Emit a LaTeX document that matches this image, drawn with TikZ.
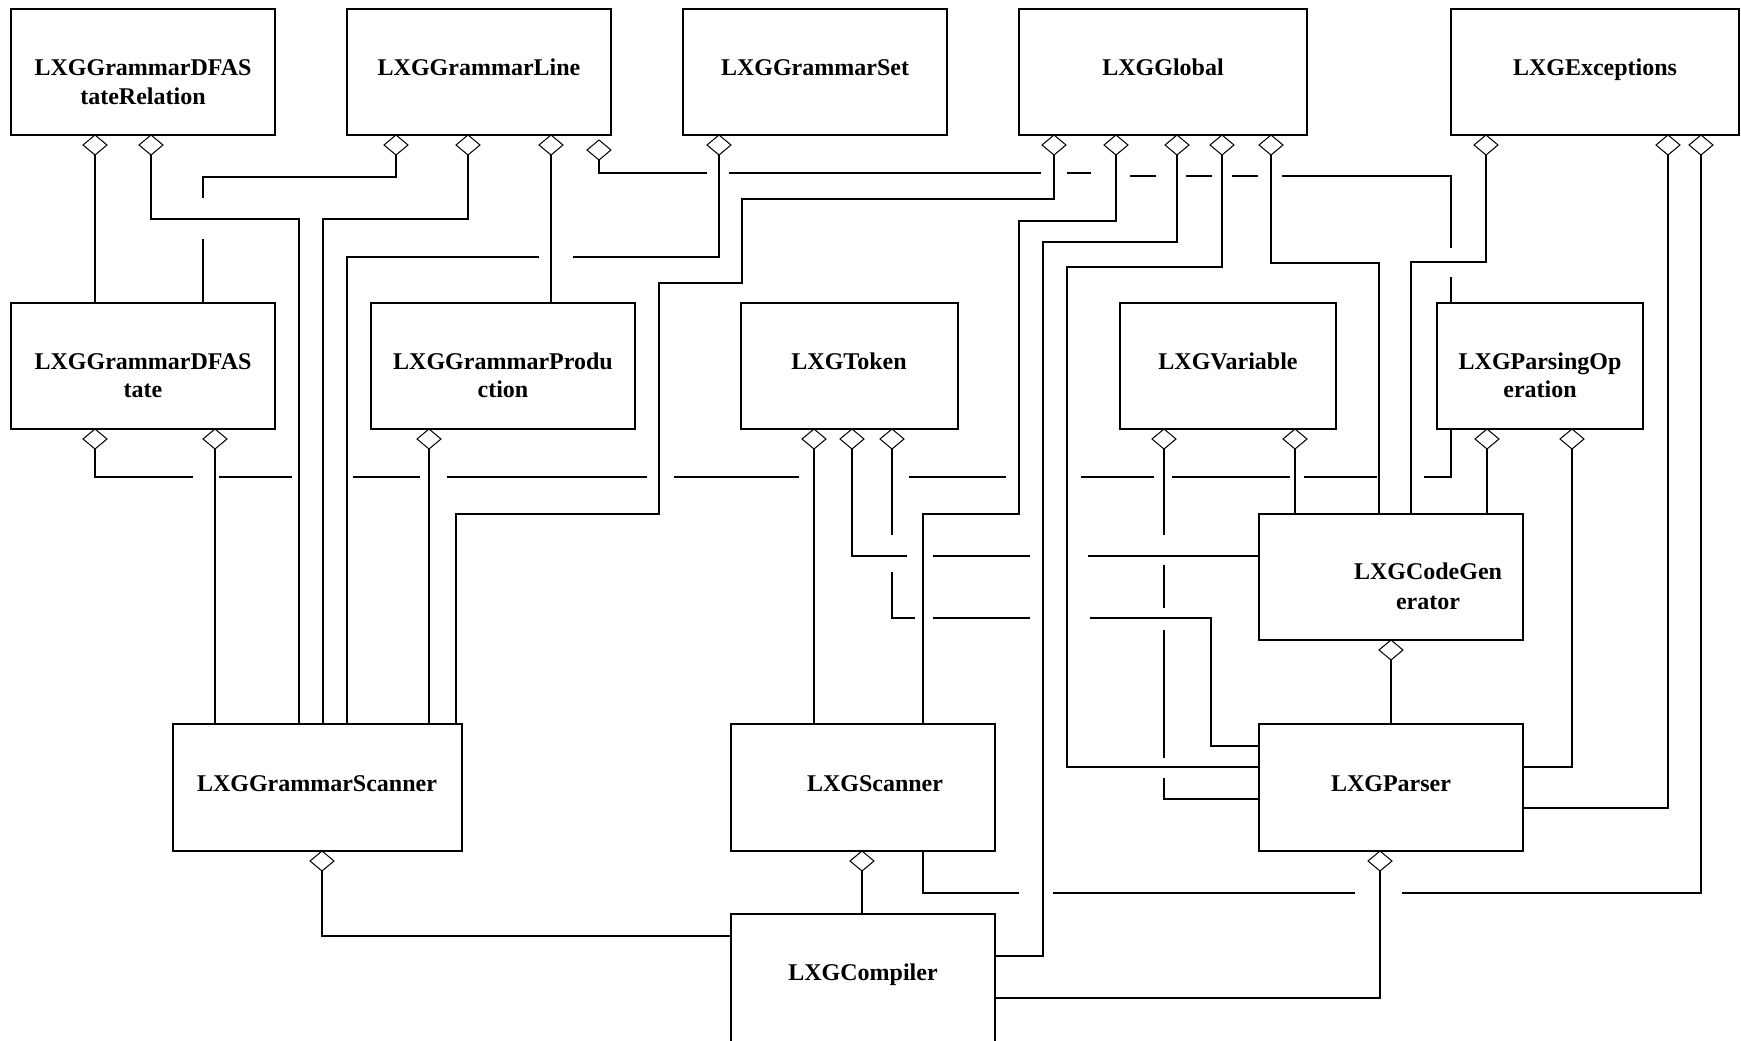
\documentclass[tikz,border=0pt]{standalone}
\usepackage{fontspec}
\setmainfont{Liberation Serif}
\usetikzlibrary{shapes.geometric}
\newcommand\cls[5]{\node[box, minimum width=#4*0.5pt, minimum height=#5*0.5pt] (#1) at (#2,#3) {};}
\newcommand\dm[3]{\node[dia] (#1) at (#2,#3) {};}
% horizontal broken between x1 and x2 at y; verticals listed are redrawn
\newcommand\hgap[4]{\fill[white] (#1,#3-3) rectangle (#2,#3+3);
  \foreach \vx in {#4} {\draw[con] (\vx,#3-4) -- (\vx,#3+4);}}
% vertical at x broken between y1 and y2; horizontals listed are redrawn
\newcommand\vgap[4]{\fill[white] (#1-3,#2) rectangle (#1+3,#3);
  \foreach \hy in {#4} {\draw[con] (#1-4,\hy) -- (#1+4,\hy);}}
\begin{document}
\begin{tikzpicture}[x=0.5pt, y=-0.5pt,
  box/.style={draw, line width=0.75pt, rectangle, anchor=north west, inner sep=0pt, outer sep=0pt},
  dia/.style={diamond, draw, fill=white, line width=0.5pt, minimum width=12pt, minimum height=10pt, inner sep=0pt, outer sep=0pt, anchor=north},
  con/.style={line width=0.55pt},
  lbl/.style={anchor=base, inner sep=0pt, font=\bfseries\fontsize{12}{14}\selectfont}]
\useasboundingbox (0,0) rectangle (1741,1040);
\fill[white] (0,0) rectangle (1741,1040);

% ---- classes
\cls{dfasr}{11}{9}{264}{126}
\cls{gline}{347}{9}{264}{126}
\cls{gset}{683}{9}{264}{126}
\cls{glob}{1019}{9}{288}{126}
\cls{exc}{1451}{9}{288}{126}
\cls{dfas}{11}{303}{264}{126}
\cls{prod}{371}{303}{264}{126}
\cls{tok}{741}{303}{217}{126}
\cls{var}{1120}{303}{216}{126}
\cls{pop}{1437}{303}{206}{126}
\cls{cgen}{1259}{514}{264}{126}
\cls{gsc}{173}{724}{289}{127}
\cls{scn}{731}{724}{264}{127}
\cls{par}{1259}{724}{264}{127}
\cls{comp}{731}{914}{264}{130}

% ---- labels
\node[lbl] (ta1) at (143,75) {LXGGrammarDFAS};
\node[lbl] (ta2) at (143,104) {tateRelation};
\node[lbl] (tb) at (479,75) {LXGGrammarLine};
\node[lbl] (tc) at (815,75) {LXGGrammarSet};
\node[lbl] (td) at (1163,75) {LXGGlobal};
\node[lbl] (te) at (1595,75) {LXGExceptions};
\node[lbl] (tf1) at (143,369) {LXGGrammarDFAS};
\node[lbl] (tf2) at (143,397) {tate};
\node[lbl] (tg1) at (503,369) {LXGGrammarProdu};
\node[lbl] (tg2) at (503,397) {ction};
\node[lbl] (th) at (849,369) {LXGToken};
\node[lbl] (ti) at (1228,369) {LXGVariable};
\node[lbl] (tj1) at (1540,369) {LXGParsingOp};
\node[lbl] (tj2) at (1540,397) {eration};
\node[lbl] (tk1) at (1428,579) {LXGCodeGen};
\node[lbl] (tk2) at (1428,609) {erator};
\node[lbl] (tl) at (317,791) {LXGGrammarScanner};
\node[lbl] (tm) at (875,791) {LXGScanner};
\node[lbl] (tn) at (1391,791) {LXGParser};
\node[lbl] (to) at (863,980) {LXGCompiler};

% ---- connectors
\draw[con] (95,155) -- (95,155 |- dfas.north);
\draw[con] (151,155) |- (299,219) -- (299,219 |- gsc.north);
\draw[con] (396,155) |- (203,177) -- (203,177 |- dfas.north);
\draw[con] (468,155) |- (323,219) -- (323,219 |- gsc.north);
\draw[con] (551,155) -- (551,155 |- prod.north);
\draw[con] (599,160) |- (1116,173) -- (1116,176) -| (1451,176 |- pop.north);
\draw[con] (719,155) |- (347,257) -- (347,257 |- gsc.north);
\draw[con] (1054,155) |- (742,199) |- (659,283) |- (456,514) -- (456,514 |- gsc.north);
\draw[con] (1116,155) |- (1019,221) |- (923,514) -- (923,514 |- scn.north);
\draw[con] (1177,155) |- (1043,242) |- (1043,956 -| comp.east);
\draw[con] (1222,155) |- (1067,267) |- (1067,767 -| par.west);
\draw[con] (1271,155) |- (1379,263) -- (1379,263 |- cgen.north);
\draw[con] (1486,155) |- (1411,262) -- (1411,262 |- cgen.north);
\draw[con] (1668,155) |- (1668,808 -| par.east);
\draw[con] (1701,155) |- (923,893) -- (923,893 |- scn.south);
\draw[con] (95,449) |- (1451,477) -- (1451,477 |- pop.south);
\draw[con] (215,449) -- (215,449 |- gsc.north);
\draw[con] (429,449) -- (429,449 |- gsc.north);
\draw[con] (814,449) -- (814,449 |- scn.north);
\draw[con] (852,449) |- (852,556 -| cgen.west);
\draw[con] (892,449) |- (1211,618) |- (1211,746 -| par.west);
\draw[con] (1164,449) |- (1164,799 -| par.west);
\draw[con] (1295,449) -- (1295,449 |- cgen.north);
\draw[con] (1487,449) -- (1487,449 |- cgen.north);
\draw[con] (1572,449) |- (1572,767 -| par.east);
\draw[con] (1391,660) -- (1391,660 |- par.north);
\draw[con] (322,871) |- (322,936 -| comp.west);
\draw[con] (862,871) -- (862,871 |- comp.north);
\draw[con] (1380,871) |- (1380,998 -| comp.east);

% ---- crossings
\hgap{707}{729}{173}{719}
\hgap{1041}{1067}{173}{1054}
\fill[white] (1091,169) rectangle (1130,180); \draw[con] (1116,167) -- (1116,182);
\hgap{1156}{1186}{176}{1177}
\hgap{1212}{1232}{176}{1222}
\hgap{1258}{1282}{176}{1271}
\hgap{539}{573}{257}{551}
\hgap{193}{219}{477}{215}
\hgap{292}{353}{477}{299,323,347}
\hgap{420}{447}{477}{429}
\hgap{647}{674}{477}{659}
\hgap{799}{909}{477}{814,852,892}
\hgap{1006}{1081}{477}{1019,1043,1067}
\hgap{1154}{1172}{477}{1164}
\hgap{1290}{1304}{477}{1295}
\hgap{1377}{1424}{477}{1379,1411}
\hgap{907}{933}{556}{923}
\hgap{1030}{1088}{556}{1043,1067}
\hgap{915}{933}{618}{923}
\hgap{1030}{1090}{618}{1043,1067}
\hgap{1019}{1053}{893}{1043}
\hgap{1355}{1402}{893}{1380}
\vgap{203}{198}{239}{219}
\vgap{1451}{248}{277}{262}
\vgap{1164}{535}{565}{556}
\vgap{1164}{608}{630}{618}
\vgap{1164}{758}{778}{767}
\vgap{892}{535}{572}{556}

% ---- diamonds
\dm{r1a}{95}{135} \dm{r1b}{151}{135}
\dm{l1}{396}{135} \dm{l2}{468}{135} \dm{l3}{551}{135} \dm{l4}{599}{140}
\dm{s1}{719}{135}
\dm{g1}{1054}{135} \dm{g2}{1116}{135} \dm{g3}{1177}{135} \dm{g4}{1222}{135} \dm{g5}{1271}{135}
\dm{e1}{1486}{135} \dm{e2}{1668}{135} \dm{e3}{1701}{135}
\dm{f1}{95}{429} \dm{f2}{215}{429}
\dm{p1}{429}{429}
\dm{t1}{814}{429} \dm{t2}{852}{429} \dm{t3}{892}{429}
\dm{v1}{1164}{429} \dm{v2}{1295}{429}
\dm{o1}{1487}{429} \dm{o2}{1572}{429}
\dm{cg1}{1391}{640}
\dm{gs1}{322}{851}
\dm{sc1}{862}{851}
\dm{pa1}{1380}{851}
\end{tikzpicture}
\end{document}
